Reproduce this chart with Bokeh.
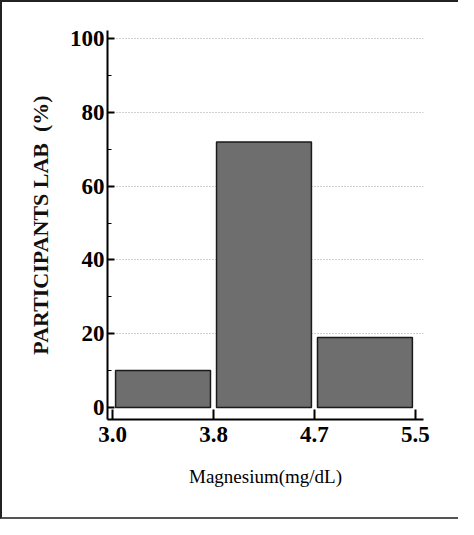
from bokeh.plotting import figure
from bokeh.models import FixedTicker, Range1d
from bokeh.embed import file_html
from bokeh.resources import INLINE

# Data
bin_labels = ["3.0", "3.8", "4.7", "5.5"]
percent = [10, 72, 19]
y_ticks = [0, 20, 40, 60, 80, 100]
y_minor = [10, 30, 50, 70, 90]
x_title = "Magnesium(mg/dL)"
y_title = "PARTICIPANTS LAB\u00a0\u00a0(%)"

idx = list(range(len(percent)))
lefts = [i + 0.03 for i in idx]
rights = [i + 0.97 for i in idx]

p = figure(width=458, height=519, output_backend="svg", toolbar_location=None,
           x_range=Range1d(-0.05, 3.08), y_range=Range1d(-3.25, 102.2),
           min_border_left=105, min_border_right=37, min_border_top=28,
           min_border_bottom=102, outline_line_color=None,
           background_fill_color="white", border_fill_color="white")
p.styles = {"border-left": "2px solid #222", "border-top": "2px solid #222",
            "border-bottom": "2px solid #555"}

p.quad(left=lefts, right=rights, bottom=0, top=percent,
       fill_color="#6e6e6e", line_color="#1a1a1a", line_width=1.5)

p.xgrid.visible = False
p.ygrid.ticker = FixedTicker(ticks=[20, 40, 60, 80, 100])
p.ygrid.grid_line_color = "#a0a0a0"
p.ygrid.grid_line_dash = "1 2"
p.ygrid.grid_line_width = 1

# x axis
p.xaxis.ticker = FixedTicker(ticks=list(range(len(bin_labels))))
p.xaxis.major_label_overrides = {i: s for i, s in enumerate(bin_labels)}
p.xaxis.axis_line_width = 2
p.xaxis.axis_line_color = "black"
p.xaxis.major_tick_in = 10
p.xaxis.major_tick_out = 0
p.xaxis.major_tick_line_width = 2
p.xaxis.minor_tick_line_color = None
p.xaxis.major_label_text_font = "Liberation Serif"
p.xaxis.major_label_text_font_size = "23px"
p.xaxis.major_label_text_font_style = "bold"
p.xaxis.major_label_text_color = "black"
p.xaxis.major_label_standoff = 7
p.xaxis.axis_label = x_title
p.xaxis.axis_label_text_font = "Liberation Serif"
p.xaxis.axis_label_text_font_size = "19px"
p.xaxis.axis_label_text_font_style = "normal"
p.xaxis.axis_label_text_color = "black"
p.xaxis.axis_label_standoff = 21

# y axis
p.yaxis.ticker = FixedTicker(ticks=y_ticks, minor_ticks=y_minor)
p.yaxis.axis_line_width = 2
p.yaxis.axis_line_color = "black"
p.yaxis.major_tick_in = 7
p.yaxis.major_tick_out = 0
p.yaxis.minor_tick_in = 4
p.yaxis.minor_tick_out = 0
p.yaxis.major_tick_line_width = 2
p.yaxis.major_label_text_font = "Liberation Serif"
p.yaxis.major_label_text_font_size = "23px"
p.yaxis.major_label_text_font_style = "bold"
p.yaxis.major_label_text_color = "black"
p.yaxis.major_label_standoff = 3
p.yaxis.axis_label = y_title
p.yaxis.axis_label_text_font = "Liberation Serif"
p.yaxis.axis_label_text_font_size = "22px"
p.yaxis.axis_label_text_font_style = "bold"
p.yaxis.axis_label_text_color = "#111111"
p.yaxis.axis_label_standoff = 14

open("out.html", "w").write(file_html(p, INLINE))
